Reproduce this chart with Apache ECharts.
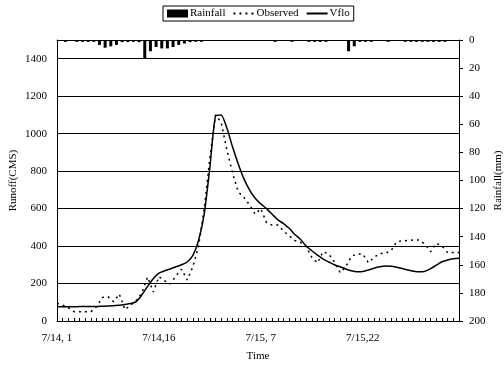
<!DOCTYPE html>
<html><head><meta charset="utf-8">
<script src="https://cdn.jsdelivr.net/npm/echarts@6/dist/echarts.min.js"></script>
<style>html,body{margin:0;padding:0;background:#fff}#c{width:504px;height:367px}</style>
</head><body><div id="c"></div>
<script>
// x tick labels shown every 18 categories
const xLabels = ['7/14, 1', '7/14,16', '7/15, 7', '7/15,22'];
// 72 time steps for runoff
const categories = Array.from({length: 72}, (_, i) => i);
// 71 rainfall intervals (between time steps)
const rainCategories = Array.from({length: 71}, (_, i) => i);

const rainfall = [
  0, 1.3, 0, 1.3, 1.3, 1.3, 1.3, 3.5, 5.5, 4.5,
  3.5, 1.5, 1.5, 1.3, 1.5, 13, 8, 5, 6, 6,
  5, 3.5, 2.5, 1.5, 1.3, 1.3, 0, 0, 0, 0,
  0, 0, 0, 0, 0, 0, 0, 0, 1.3, 0,
  0, 1.3, 0, 0, 1.3, 1.3, 1.3, 1.3, 0, 0,
  0, 8, 4.5, 1.3, 1.3, 1.3, 0, 0, 1.3, 0,
  0, 1.3, 1.3, 1.3, 1.3, 1.3, 1.3, 1.3, 1.3, 0,
  0
];

const observed = [
  95, 85, 70, 50, 50, 50, 50, 76, 125, 130,
  103, 144, 60, 85, 110, 150, 235, 155, 237, 215,
  198, 240, 276, 219, 290, 400, 600, 870, 1100, 1060,
  913, 790, 690, 660, 620, 570, 600, 525, 512, 512,
  480, 455, 430, 420, 397, 340, 310, 370, 358, 315,
  258, 290, 345, 358, 358, 311, 340, 360, 361, 375,
  423, 428, 430, 432, 432, 410, 370, 415, 400, 365,
  365, 365
];

const vflo = [
  76, 76, 76, 76, 77, 77, 78, 78, 79, 80,
  82, 84, 88, 93, 103, 140, 185, 225, 255, 268,
  278, 290, 300, 315, 350, 430, 570, 820, 1095, 1100,
  1030, 930, 840, 760, 700, 655, 625, 600, 570, 540,
  520, 495, 462, 436, 400, 375, 352, 330, 315, 300,
  290, 278, 268, 263, 264, 272, 282, 289, 293, 292,
  287, 280, 272, 266, 263, 266, 280, 298, 316, 326,
  332, 335
];

const FONT = 'Liberation Serif';
const txt = {fontFamily: FONT, fontSize: 11, color: '#000'};
const chart = echarts.init(document.getElementById('c'), null, {renderer: 'canvas'});
chart.setOption({
  animation: false,
  backgroundColor: '#fff',
  textStyle: {fontFamily: FONT},
  legend: {
    top: 6, left: 163,
    itemGap: 7, itemWidth: 21, itemHeight: 8,
    padding: [2, 4],
    borderColor: '#000', borderWidth: 1, borderRadius: 0,
    textStyle: Object.assign({}, txt, {padding: [0, 0, 0, -3]}),
    data: [
      {name: 'Rainfall', icon: 'rect'},
      {name: 'Observed', itemStyle: {opacity: 0}},
      {name: 'Vflo', itemStyle: {opacity: 0}}
    ]
  },
  grid: {left: 57, right: 45, top: 40, bottom: 46, outerBoundsMode: 'none', containLabel: false},
  xAxis: [{
    type: 'category', data: categories, boundaryGap: false, position: 'bottom',
    axisLine: {lineStyle: {color: '#000', width: 1}},
    axisTick: {inside: true, length: 3, interval: 0, lineStyle: {color: '#000'}},
    axisLabel: Object.assign({}, txt, {interval: 17, margin: 12,
      formatter: (v, idx) => xLabels[Math.round(idx / 18)] || ''}),
    splitLine: {show: false},
    name: 'Time', nameLocation: 'middle', nameGap: 30, nameMoveOverlap: false, nameTextStyle: txt
  }, {
    type: 'category', data: rainCategories, boundaryGap: true, position: 'top',
    axisLine: {lineStyle: {color: '#000', width: 1}},
    axisTick: {show: false}, axisLabel: {show: false}, splitLine: {show: false}
  }],
  yAxis: [{
    type: 'value', min: 0, max: 1500, interval: 200, position: 'left',
    axisLine: {show: true, lineStyle: {color: '#000', width: 1}},
    axisTick: {show: false},
    axisLabel: Object.assign({}, txt, {margin: 10, showMaxLabel: false, formatter: v => String(v)}),
    splitLine: {show: true, lineStyle: {color: '#000', width: 1}},
    name: 'Runoff(CMS)', nameLocation: 'middle', nameGap: 38, nameRotate: 90,
    nameMoveOverlap: false, nameTextStyle: txt
  }, {
    type: 'value', min: 0, max: 200, interval: 20, inverse: true, position: 'right',
    axisLine: {show: true, lineStyle: {color: '#000', width: 1}},
    axisTick: {show: true, length: 4, lineStyle: {color: '#000'}},
    axisLabel: Object.assign({}, txt, {margin: 10, formatter: v => String(v)}),
    splitLine: {show: false},
    name: 'Rainfall(mm)', nameLocation: 'middle', nameGap: 34, nameRotate: 90,
    nameMoveOverlap: false, nameTextStyle: txt
  }],
  series: [{
    name: 'Rainfall', type: 'bar', xAxisIndex: 1, yAxisIndex: 1, data: rainfall,
    barWidth: 3, itemStyle: {color: '#000'}
  }, {
    name: 'Observed', type: 'line', xAxisIndex: 0, yAxisIndex: 0, data: observed,
    symbol: 'none', lineStyle: {color: '#000', width: 1.5, type: [2, 4]}, itemStyle: {color: '#000'}
  }, {
    name: 'Vflo', type: 'line', xAxisIndex: 0, yAxisIndex: 0, data: vflo,
    symbol: 'none', smooth: 0.2, lineStyle: {color: '#000', width: 1.5}, itemStyle: {color: '#000'}
  }]
});
</script></body></html>
